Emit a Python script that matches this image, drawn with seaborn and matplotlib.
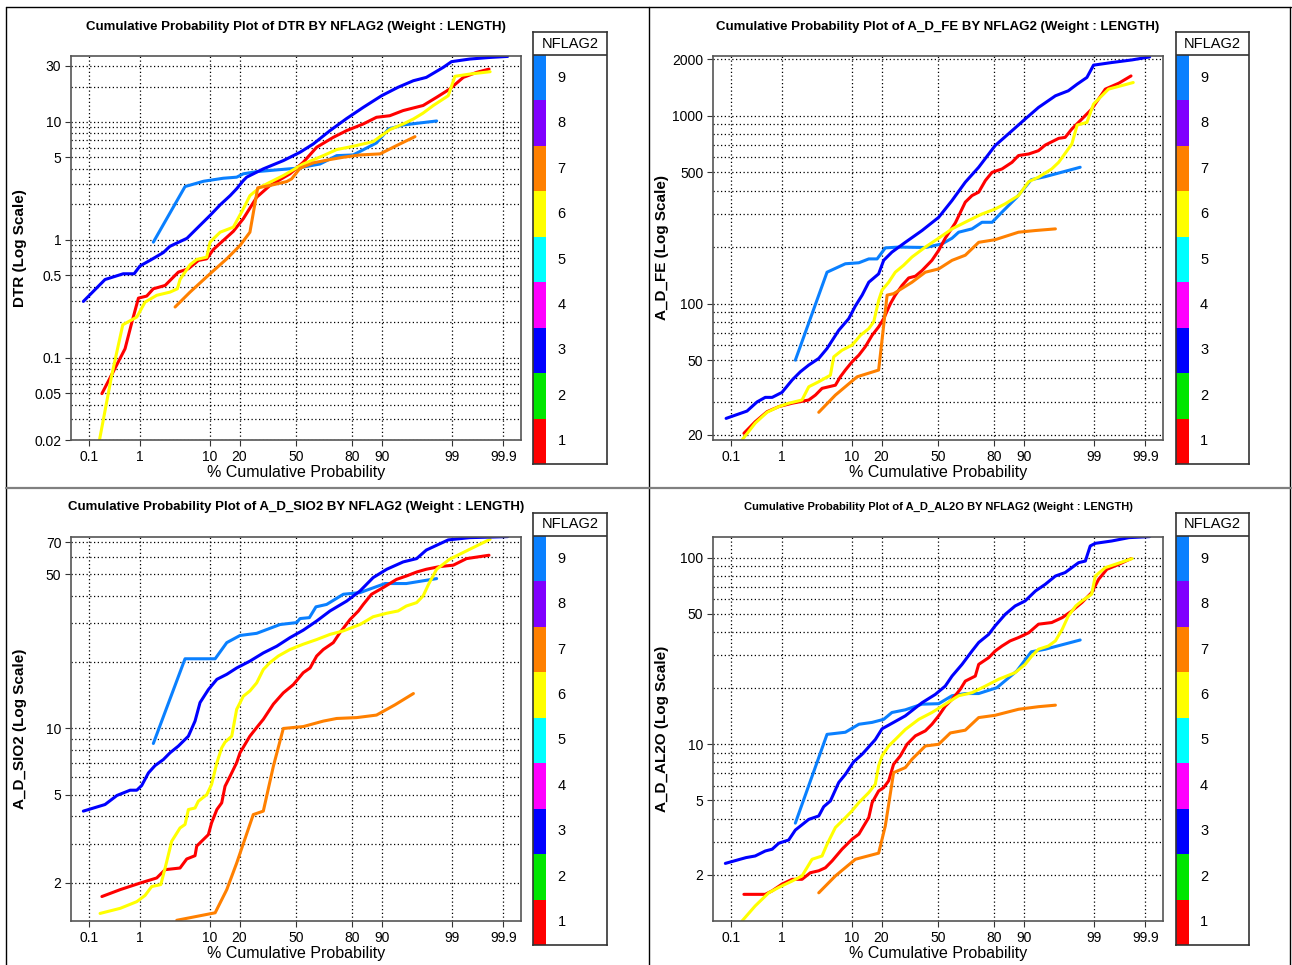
import math
import numpy as np
import pandas as pd
import matplotlib
matplotlib.use("Agg")
import matplotlib.pyplot as plt
from matplotlib.lines import Line2D
from matplotlib.ticker import NullFormatter, NullLocator
import seaborn as sns

sns.set_theme(style="white")
plt.rcParams["font.family"] = ["Liberation Sans", "DejaVu Sans"]
plt.rcParams["text.color"] = "black"
plt.rcParams["axes.labelcolor"] = "black"
plt.rcParams["xtick.color"] = "black"
plt.rcParams["ytick.color"] = "black"

# ---------------------------------------------------------------- categories
FLAGS = [9, 8, 7, 6, 5, 4, 3, 2, 1]
FLAG_COLORS = {1: "#FF0000", 2: "#00E600", 3: "#0000FF", 4: "#FF00FF",
               5: "#00FFFF", 6: "#FFFF00", 7: "#FF8000", 8: "#8000FF",
               9: "#0A80FF"}
PLOTTED_FLAGS = [9, 1, 6, 7, 3]

PROB_TICKS = [0.1, 1, 10, 20, 50, 80, 90, 99, 99.9]
PROB_LABELS = ["0.1", "1", "10", "20", "50", "80", "90", "99", "99.9"]

# ---------------------------------------------------------------- DTR
dtr_ticks = [30, 10, 5, 1, 0.5, 0.1, 0.05, 0.02]
dtr_p1 = [0.19, 0.32, 0.54, 0.72, 0.94, 1.30, 1.67, 2.55, 3.97, 5.43, 7.27, 9.16, 10.9, 13.9, 17.5, 21.6,
          27.9, 34.9, 46.4, 54.3, 62.1, 71.1, 77.5, 84.2, 88.5, 91.9, 94.5, 97.1, 98.2, 98.9, 99.37, 99.65, 99.80]
dtr_v1 = [0.0495, 0.0757, 0.119, 0.200, 0.320, 0.333, 0.384, 0.410, 0.532, 0.568, 0.668, 0.690, 0.828, 0.987,
          1.18, 1.51, 2.30, 2.89, 3.63, 4.55, 6.10, 7.41, 8.45, 9.62, 10.96, 11.3, 12.5, 13.8, 16.2, 19.0,
          23.9, 26.4, 28.1]
dtr_p3 = [0.076, 0.22, 0.50, 0.79, 1.0, 1.48, 2.4, 3.0, 5.2, 6.9, 10.0, 12.9, 16.3, 18.8, 21.6, 23.1, 31.3,
          42.5, 52.4, 60.2, 69.4, 77.5, 84.2, 89.9, 93.6, 96.0, 97.4, 98.6, 98.98, 99.52, 99.81, 99.92]
dtr_v3 = [0.30, 0.46, 0.515, 0.515, 0.60, 0.67, 0.78, 0.88, 1.03, 1.24, 1.61, 1.98, 2.37, 2.71, 3.18, 3.40,
          4.00, 4.70, 5.53, 6.51, 8.45, 10.7, 13.3, 16.7, 19.7, 22.4, 23.9, 29.1, 32.5, 34.2, 35.3, 36.0]
dtr_p6 = [0.169, 0.30, 0.49, 0.88, 1.22, 1.89, 3.02, 3.85, 4.19, 5.71, 6.94, 9.16, 10.0, 12.9, 17.5, 21.6,
          24.6, 29.6, 34.9, 42.5, 54.3, 65.8, 72.8, 80.3, 87.5, 91.9, 94.5, 96.0, 97.1, 97.97, 98.84, 99.11,
          99.52, 99.81]
dtr_v6 = [0.0199, 0.0708, 0.190, 0.221, 0.296, 0.338, 0.360, 0.384, 0.461, 0.614, 0.681, 0.713, 0.955, 1.16,
          1.28, 1.83, 2.37, 2.79, 3.08, 3.51, 4.40, 5.18, 5.83, 6.22, 6.81, 8.61, 9.62, 10.6, 11.9, 13.8,
          16.7, 24.4, 25.5, 26.7]
dtr_p7 = [3.57, 5.71, 10.0, 15.1, 20.2, 24.6, 28.4, 34.9, 44.5, 47.4, 52.4, 60.2, 69.4, 76.0, 83.0, 89.5,
          93.3, 96.2]
dtr_v7 = [0.269, 0.360, 0.515, 0.690, 0.895, 1.16, 2.76, 2.89, 3.12, 3.29, 4.05, 4.50, 4.80, 5.02, 5.25,
          5.36, 6.30, 7.51]
dtr_p9 = [1.67, 4.9, 8.4, 13.9, 18.8, 21.6, 27.9, 38.7, 50.4, 64.0, 72.8, 80.3, 88.5, 91.6, 94.5, 98.2]
dtr_v9 = [0.955, 2.83, 3.14, 3.33, 3.40, 3.63, 3.79, 3.92, 4.05, 4.40, 5.18, 5.25, 6.64, 8.72, 9.43, 10.2]

# ---------------------------------------------------------------- A_D_FE
fe_ticks = [2000, 1000, 500, 100, 50, 20]
fe_p1 = [0.19, 0.32, 0.54, 0.88, 1.48, 2.70, 3.38, 4.19, 6.30, 7.27, 8.36, 10.0, 11.9, 13.9, 16.3, 18.8,
         20.9, 23.9, 26.2, 29.6, 33.1, 36.8, 40.6, 46.4, 50.4, 54.3, 60.2, 65.8, 69.4, 72.8, 76.0, 79.0,
         83.0, 86.5, 88.5, 91.2, 93.3, 94.5, 96.4, 97.1, 97.7, 98.4, 98.9, 99.37, 99.65, 99.80]
fe_v1 = [20.4, 23.5, 26.6, 28.3, 29.5, 30.7, 32.6, 35.4, 36.8, 40.8, 44.3, 49.0, 53.2, 58.9, 67.9, 75.2,
         83.2, 100, 111, 125, 137, 140, 150, 170, 192, 223, 269, 347, 376, 392, 452, 500,
         521, 565, 614, 626, 652, 698, 758, 767, 850, 960, 1084, 1386, 1491, 1629]
fe_p3 = [0.079, 0.22, 0.35, 0.50, 0.67, 1.0, 1.48, 2.01, 2.70, 3.77, 4.90, 6.94, 9.16, 10.9, 12.9, 15.1,
         18.8, 20.9, 24.6, 31.3, 40.6, 50.4, 58.3, 65.8, 72.8, 80.3, 86.5, 90.3, 93.3, 96.0, 97.4, 98.1,
         98.68, 98.98, 99.52, 99.81, 99.92]
fe_v3 = [24.5, 26.8, 30.0, 31.7, 31.7, 33.7, 39.2, 43.4, 47.1, 51.1, 57.7, 72.1, 83.2, 97.2, 111, 130,
         144, 170, 188, 212, 245, 288, 354, 443, 532, 694, 832, 960, 1107, 1277, 1358, 1473,
         1599, 1859, 1920, 1983, 2057]
fe_p6 = [0.174, 0.32, 0.54, 0.88, 1.30, 2.13, 2.70, 3.77, 5.43, 6.00, 7.62, 10.0, 12.4, 15.1, 16.9, 18.8,
         20.2, 23.1, 26.2, 30.4, 34.9, 42.5, 50.4, 58.3, 67.6, 74.4, 80.3, 84.2, 88.5, 91.2, 93.3, 95.5,
         96.4, 97.7, 98.1, 98.68, 98.98, 99.45, 99.82]
fe_v6 = [18.8, 23.1, 26.4, 28.3, 29.5, 30.7, 36.1, 38.4, 41.6, 52.1, 56.5, 60.1, 67.9, 73.6, 80.0, 104,
         118, 130, 147, 160, 177, 200, 223, 250, 277, 300, 319, 340, 376, 446, 471, 521,
         565, 707, 892, 922, 1154, 1386, 1503]
fe_p7 = [3.77, 6.30, 11.4, 18.8, 22.4, 25.4, 34.9, 42.5, 50.4, 58.3, 65.8, 72.8, 80.3, 88.5, 92.7, 96.0]
fe_v7 = [26.4, 32.6, 40.8, 44.3, 111, 113, 130, 147, 153, 170, 181, 212, 219, 240, 245, 250]
fe_p9 = [1.67, 4.90, 8.36, 11.9, 15.1, 18.2, 21.6, 27.9, 42.5, 52.4, 58.3, 62.1, 69.4, 74.4, 79.0, 83.0,
         88.0, 91.8, 94.5, 98.3]
fe_v9 = [50.0, 147, 163, 165, 173, 173, 198, 200, 199, 208, 223, 240, 250, 271, 271, 307,
         368, 457, 474, 532]

# ---------------------------------------------------------------- A_D_SIO2
sio2_ticks = [70, 50, 10, 5, 2]
sio2_p1 = [0.19, 0.44, 1.0, 1.89, 2.55, 4.19, 5.16, 6.61, 6.94, 9.56, 10.4, 11.9, 13.4, 14.5, 16.3, 18.8,
           20.2, 24.6, 27.9, 31.3, 36.8, 42.5, 48.4, 54.3, 58.3, 62.1, 65.8, 71.1, 74.4, 79.0, 82.4, 84.2,
           87.0, 90.3, 93.3, 95.0, 96.4, 97.4, 98.4, 99.05, 99.45, 99.80]
sio2_v1 = [1.73, 1.86, 1.99, 2.10, 2.29, 2.33, 2.56, 2.65, 2.93, 3.30, 3.73, 4.29, 4.60, 5.47, 6.08, 6.99,
           7.76, 9.23, 10.1, 11.0, 12.9, 14.5, 15.8, 17.9, 18.8, 21.3, 22.8, 24.5, 27.2, 31.2, 34.1, 36.5,
           40.6, 43.5, 47.4, 49.1, 51.2, 52.7, 54.2, 55.0, 58.9, 61.0]
sio2_p3 = [0.076, 0.22, 0.38, 0.67, 0.88, 1.07, 1.39, 1.78, 2.40, 3.02, 3.97, 5.43, 6.61, 7.62, 9.56, 11.9,
           15.1, 18.8, 24.6, 31.3, 38.7, 46.4, 54.3, 62.1, 69.4, 77.5, 83.0, 87.5, 91.2, 94.5, 96.4, 97.4,
           98.2, 98.84, 99.52, 99.92]
sio2_v3 = [4.22, 4.52, 4.97, 5.25, 5.25, 5.51, 6.29, 6.79, 7.23, 7.76, 8.32, 9.23, 10.8, 13.1, 15.0, 16.7,
           17.6, 18.8, 20.2, 22.0, 23.6, 25.8, 27.9, 30.7, 34.1, 37.8, 42.0, 48.3, 52.7, 56.9, 58.9, 64.4,
           67.7, 71.6, 73.3, 74.1]
sio2_p6 = [0.174, 0.44, 0.88, 1.22, 1.57, 2.19, 2.55, 3.19, 4.19, 4.90, 5.43, 6.61, 7.27, 9.16, 10.4, 11.9,
           13.4, 14.5, 16.9, 18.8, 21.6, 24.6, 27.9, 31.3, 34.9, 39.6, 46.4, 54.3, 62.1, 69.4, 76.0, 83.0,
           87.5, 91.2, 93.6, 95.0, 96.4, 97.1, 97.6, 98.2, 98.9, 99.52, 99.81]
sio2_v6 = [1.45, 1.53, 1.64, 1.75, 1.92, 1.96, 2.33, 3.08, 3.54, 3.67, 4.29, 4.36, 4.68, 5.01, 5.57, 6.99,
           8.17, 8.67, 9.23, 12.2, 14.0, 14.8, 16.1, 18.5, 19.9, 21.3, 22.8, 24.1, 25.3, 26.7, 27.7, 29.6,
           32.1, 33.3, 34.1, 35.9, 37.2, 39.9, 45.1, 52.7, 58.5, 64.9, 72.1]
sio2_p7 = [3.77, 11.4, 15.1, 18.8, 26.2, 31.3, 36.8, 42.5, 54.3, 65.8, 72.8, 81.7, 88.5, 93.0, 96.0]
sio2_v7 = [1.35, 1.46, 1.86, 2.45, 4.07, 4.22, 6.75, 10.0, 10.2, 10.8, 11.1, 11.2, 11.5, 12.8, 14.4]
sio2_p9 = [1.67, 4.90, 11.4, 15.1, 20.2, 27.9, 40.6, 50.4, 52.4, 57.9, 61.7, 67.6, 76.0, 83.0, 90.8, 95.0, 98.2]
sio2_v9 = [8.55, 20.7, 20.7, 24.5, 26.4, 27.0, 29.6, 30.2, 31.5, 31.8, 35.6, 36.5, 40.6, 41.3, 45.4, 45.4, 47.8]

# ---------------------------------------------------------------- A_D_AL2O
al2o_ticks = [100, 50, 10, 5, 2]
al2o_p1 = [0.19, 0.50, 0.67, 1.0, 1.48, 2.13, 2.85, 3.77, 4.66, 5.71, 7.62, 10.0, 11.9, 13.4, 15.1, 16.3,
           18.8, 20.9, 23.1, 25.4, 28.7, 32.2, 36.8, 42.5, 46.4, 50.4, 54.3, 58.3, 63.0, 65.8, 71.1, 72.8,
           77.5, 80.3, 83.0, 85.9, 88.5, 91.2, 93.3, 95.5, 96.8, 97.7, 98.4, 98.9, 99.17, 99.41, 99.65, 99.80]
al2o_v1 = [1.57, 1.57, 1.64, 1.78, 1.89, 1.89, 2.05, 2.10, 2.18, 2.37, 2.74, 3.10, 3.30, 3.65, 4.05, 4.87,
           5.62, 5.86, 6.37, 7.82, 8.66, 10.0, 11.1, 11.8, 12.8, 14.2, 16.0, 17.4, 19.7, 21.8, 23.2, 26.8,
           29.1, 31.6, 33.6, 35.8, 37.3, 39.6, 44.0, 44.9, 47.7, 51.8, 57.4, 64.9, 76.6, 86.6, 92.1, 98.8]
al2o_p3 = [0.076, 0.21, 0.32, 0.50, 0.67, 0.88, 1.30, 1.67, 2.70, 3.77, 4.42, 5.43, 6.94, 8.36, 10.4, 12.9,
           17.5, 20.2, 25.4, 31.3, 40.6, 48.4, 54.3, 58.3, 64.0, 69.4, 72.8, 77.5, 80.3, 84.2, 87.5, 90.3,
           92.7, 94.5, 96.0, 97.1, 97.7, 98.2, 98.6, 98.84, 99.05, 99.52, 99.78, 99.92]
al2o_v3 = [2.30, 2.47, 2.52, 2.68, 2.74, 2.95, 3.07, 3.47, 3.96, 4.13, 4.63, 4.97, 6.24, 6.90, 8.04, 8.84,
           10.6, 12.1, 13.1, 14.2, 16.7, 18.5, 20.5, 23.2, 26.8, 31.6, 35.1, 38.8, 43.1, 49.7, 55.1, 58.6,
           66.3, 71.9, 79.7, 83.2, 88.4, 94.0, 95.9, 115.5, 119.3, 122.8, 128, 129.6]
al2o_p6 = [0.174, 0.32, 0.58, 0.88, 1.48, 2.13, 3.02, 4.19, 4.90, 6.30, 7.99, 10.0, 11.9, 15.1, 17.5, 18.8,
           20.2, 23.1, 26.2, 31.3, 38.7, 46.4, 54.3, 62.1, 69.4, 76.0, 81.7, 87.5, 90.3, 91.9, 93.3, 95.0,
           96.0, 96.8, 97.4, 98.0, 98.4, 98.9, 99.05, 99.37, 99.81]
al2o_v6 = [1.13, 1.36, 1.60, 1.71, 1.85, 1.97, 2.42, 2.52, 2.91, 3.58, 3.96, 4.40, 4.87, 5.51, 6.11, 7.66,
           8.66, 9.79, 10.6, 12.0, 13.6, 14.8, 16.4, 18.2, 18.9, 20.5, 22.3, 24.2, 26.8, 29.7, 32.3, 33.6,
           35.8, 41.3, 48.7, 55.1, 58.6, 63.6, 79.7, 88.4, 98.8]
al2o_p7 = [3.77, 6.30, 10.9, 18.8, 21.6, 25.4, 31.3, 34.9, 42.5, 50.4, 57.3, 65.8, 72.8, 80.3, 88.5, 93.3, 96.0]
al2o_v7 = [1.60, 1.97, 2.42, 2.61, 3.65, 7.05, 7.50, 8.31, 9.79, 10.0, 11.5, 11.9, 13.9, 14.3, 15.4, 15.9, 16.2]
al2o_p9 = [1.67, 4.90, 8.36, 11.9, 16.3, 20.9, 24.6, 31.3, 40.6, 50.4, 58.3, 65.8, 72.8, 81.0, 88.0, 91.8,
           94.5, 98.3]
al2o_v9 = [3.78, 11.3, 11.6, 12.8, 13.1, 13.6, 14.8, 15.3, 16.4, 16.5, 18.2, 18.7, 18.7, 20.1, 24.7, 31.3,
           32.3, 36.2]

SERIES = {
    "DTR": {1: (dtr_p1, dtr_v1), 3: (dtr_p3, dtr_v3), 6: (dtr_p6, dtr_v6), 7: (dtr_p7, dtr_v7), 9: (dtr_p9, dtr_v9)},
    "A_D_FE": {1: (fe_p1, fe_v1), 3: (fe_p3, fe_v3), 6: (fe_p6, fe_v6), 7: (fe_p7, fe_v7), 9: (fe_p9, fe_v9)},
    "A_D_SIO2": {1: (sio2_p1, sio2_v1), 3: (sio2_p3, sio2_v3), 6: (sio2_p6, sio2_v6), 7: (sio2_p7, sio2_v7), 9: (sio2_p9, sio2_v9)},
    "A_D_AL2O": {1: (al2o_p1, al2o_v1), 3: (al2o_p3, al2o_v3), 6: (al2o_p6, al2o_v6), 7: (al2o_p7, al2o_v7), 9: (al2o_p9, al2o_v9)},
}
Y_TICKS = {"DTR": dtr_ticks, "A_D_FE": fe_ticks, "A_D_SIO2": sio2_ticks, "A_D_AL2O": al2o_ticks}

frames = []
for var, curves in SERIES.items():
    for flag, (pct, val) in curves.items():
        frames.append(pd.DataFrame({"variable": var, "NFLAG2": flag, "pct": pct, "value": val}))
df = pd.concat(frames, ignore_index=True)

# ---------------------------------------------------------------- probability scale
_A = [-3.969683028665376e+01, 2.209460984245205e+02, -2.759285104469687e+02,
      1.383577518672690e+02, -3.066479806614716e+01, 2.506628277459239e+00]
_B = [-5.447609879822406e+01, 1.615858368580409e+02, -1.556989798598866e+02,
      6.680131188771972e+01, -1.328068155288572e+01, 1.0]
_C = [-7.784894002430293e-03, -3.223964580411365e-01, -2.400758277161838e+00,
      -2.549732539343734e+00, 4.374664141464968e+00, 2.938163982698783e+00]
_D = [7.784695709041462e-03, 3.224671290700398e-01, 2.445134137142996e+00,
      3.754408661907416e+00, 1.0]


def probit(pct):
    """Percent -> standard normal quantile (Acklam's approximation)."""
    p = np.clip(np.asarray(pct, dtype=float) / 100.0, 1e-12, 1 - 1e-12)
    z = np.empty_like(p)
    plow = 0.02425
    lo = p < plow
    hi = p > 1 - plow
    mid = ~(lo | hi)
    q = np.sqrt(-2 * np.log(p[lo]))
    z[lo] = np.polyval(_C, q) / np.polyval(_D, q)
    q = p[mid] - 0.5
    r = q * q
    z[mid] = np.polyval(_A, r) * q / np.polyval(_B, r)
    q = np.sqrt(-2 * np.log(1 - p[hi]))
    z[hi] = -np.polyval(_C, q) / np.polyval(_D, q)
    return z


_erf = np.vectorize(math.erf)


def inv_probit(z):
    z = np.asarray(z, dtype=float)
    return 50.0 * (1.0 + _erf(z / math.sqrt(2.0)))


# ---------------------------------------------------------------- layout
W, H = 1292, 965
fig = plt.figure(figsize=(W / 100, H / 100), dpi=100)
fig.patch.set_facecolor("white")


def rect(x0, y0, x1, y1):
    return [x0 / W, 1 - y1 / H, (x1 - x0) / W, (y1 - y0) / H]


PANELS = [
    # variable, axes px, legend px, title y, title size, y-limits
    ("DTR", (71, 56, 521, 440), (533, 32, 607, 464), 27, 9.5, (0.02, 36.3)),
    ("A_D_FE", (713, 56, 1163, 440), (1176, 32, 1249, 464), 27, 9.5, (18.8, 2080)),
    ("A_D_SIO2", (71, 537, 521, 921), (533, 513, 607, 945), 507, 9.5, (1.34, 73.8)),
    ("A_D_AL2O", (713, 537, 1163, 921), (1176, 513, 1249, 945), 507, 8.0, (1.13, 129)),
]

grid_kw = dict(color="black", linestyle=(0, (1, 2)), linewidth=0.9)
zmax = 3.355

for var, ax_px, lg_px, title_y, title_fs, ylim in PANELS:
    ax = fig.add_axes(rect(*ax_px))
    ax.set_xscale("function", functions=(probit, inv_probit))
    ax.set_yscale("log")

    sub = df[df["variable"] == var]
    sns.lineplot(data=sub, x="pct", y="value", hue="NFLAG2", hue_order=PLOTTED_FLAGS,
                 palette=FLAG_COLORS, estimator=None, sort=False, linewidth=2.2,
                 legend=False, ax=ax)

    ax.set_xlim(inv_probit(-zmax), inv_probit(zmax))
    ax.set_ylim(*ylim)

    ax.set_xticks(PROB_TICKS, labels=PROB_LABELS)
    ax.xaxis.set_minor_locator(NullLocator())

    majors = Y_TICKS[var]
    ax.set_yticks(majors, labels=[f"{v:g}" for v in majors])
    lo, hi = ylim
    minors = []
    for e in range(int(math.floor(math.log10(lo))), int(math.ceil(math.log10(hi))) + 1):
        for k in range(1, 10):
            v = k * 10.0 ** e
            if lo < v < hi and not any(abs(v - m) / m < 1e-6 for m in majors):
                minors.append(v)
    ax.set_yticks(minors, minor=True)
    ax.yaxis.set_minor_formatter(NullFormatter())

    ax.set_axisbelow(True)
    ax.grid(True, which="both", axis="y", **grid_kw)
    ax.grid(True, which="major", axis="x", **grid_kw)

    ax.tick_params(axis="both", which="major", bottom=True, left=True, length=4, width=0.8,
                   color="#333333", labelsize=10, pad=3)
    ax.tick_params(axis="y", which="minor", left=True, length=0)
    for s in ax.spines.values():
        s.set_color("#555555")
        s.set_linewidth(1.2)

    ax.set_xlabel("% Cumulative Probability", fontsize=11.5)
    ax.xaxis.set_label_coords(0.5, -25 / 384)
    ax.set_ylabel(f"{var} (Log Scale)", fontsize=11, fontweight="bold")
    ax.yaxis.set_label_coords(-44 / 450, 0.5)

    cx = (ax_px[0] + ax_px[2]) / 2
    fig.text(cx / W, 1 - title_y / H,
             f"Cumulative Probability Plot of {var} BY NFLAG2 (Weight : LENGTH)",
             ha="center", va="center", fontsize=title_fs, fontweight="bold")

    # NFLAG2 colour key
    lax = fig.add_axes(rect(*lg_px))
    hdr = 23 / ((lg_px[3] - lg_px[1] - 23) / len(FLAGS))
    lax.set_xlim(0, 1)
    lax.set_ylim(0, len(FLAGS) + hdr)
    lax.barh([f - 0.5 for f in FLAGS], [0.18] * len(FLAGS), height=1.0, left=0,
             color=[FLAG_COLORS[f] for f in FLAGS], linewidth=0)
    for f in FLAGS:
        lax.text(0.385, f - 0.5, str(f), ha="center", va="center", fontsize=10.5)
    lax.text(0.5, len(FLAGS) + hdr / 2, "NFLAG2", ha="center", va="center", fontsize=10.5)
    lax.axhline(len(FLAGS), color="#333333", linewidth=1.2)
    lax.set_xticks([])
    lax.set_yticks([])
    for s in lax.spines.values():
        s.set_color("#333333")
        s.set_linewidth(1.2)

# panel frames
def fig_line(x0, y0, x1, y1, color="black", lw=1.0):
    fig.add_artist(Line2D([x0 / W, x1 / W], [1 - y0 / H, 1 - y1 / H],
                          transform=fig.transFigure, color=color, linewidth=lw))

fig_line(6, 7, 1291, 7)
fig_line(6, 7, 6, 965)
fig_line(1290, 7, 1290, 965)
fig_line(649, 7, 649, 965)
fig_line(6, 488.5, 1291, 488.5, color="#808080", lw=1.6)

fig.savefig("out.png", dpi=100, facecolor="white")
